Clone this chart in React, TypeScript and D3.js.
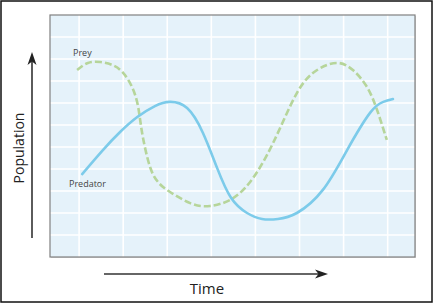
import React from "react";
import * as d3 from "d3";

// Time units: gridlines at integers 1..8; population units: gridlines at 1..10
const timeDomain: [number, number] = [0.34, 8.62];
const popDomain: [number, number] = [0, 11];
const timeGrid = [1, 2, 3, 4, 5, 6, 7, 8];
const popGrid = [1, 2, 3, 4, 5, 6, 7, 8, 9, 10];

const preyTime = [0.955, 1.2, 1.48, 1.75, 1.98, 2.2, 2.34, 2.43, 2.61, 2.79, 2.995, 3.52, 3.97, 4.42, 4.88, 5.4, 5.94, 6.4, 6.85, 7.21, 7.53, 7.76, 7.98];
const preyPop = [8.5, 8.82, 8.86, 8.73, 8.41, 7.73, 6.82, 5.64, 4.09, 3.41, 3.05, 2.45, 2.32, 2.59, 3.41, 5.18, 7.45, 8.5, 8.82, 8.5, 7.73, 6.68, 5.32];

const predTime = [1.07, 1.54, 1.93, 2.32, 2.72, 3.06, 3.45, 3.81, 4.13, 4.45, 4.81, 5.15, 5.51, 5.94, 6.53, 7.08, 7.6, 7.9, 8.12];
const predPop = [3.77, 4.86, 5.68, 6.36, 6.86, 7.05, 6.77, 5.64, 4.05, 2.68, 2.0, 1.73, 1.73, 2.0, 3.05, 4.86, 6.55, 7.05, 7.18];

const seriesLabels = ["Prey", "Predator"];
const axisLabels = { x: "Time", y: "Population" };

export default function App() {
  const W = 434, H = 304;
  const left = 50, right = 415, top = 15, bottom = 257;
  const x = d3.scaleLinear().domain(timeDomain).range([left, right]);
  const y = d3.scaleLinear().domain(popDomain).range([bottom, top]);
  const line = d3
    .line<[number, number]>()
    .x((d) => x(d[0]))
    .y((d) => y(d[1]))
    .curve(d3.curveNatural);
  const prey = preyTime.map((t, i) => [t, preyPop[i]] as [number, number]);
  const pred = predTime.map((t, i) => [t, predPop[i]] as [number, number]);
  const font = "'Open Sans', 'DejaVu Sans', sans-serif";
  return (
    <svg
      width={W}
      height={H}
      style={{ position: "absolute", left: 0, top: 0, background: "#fff" }}
    >
      <rect x={1} y={1} width={W - 3} height={H - 3} fill="#fff" stroke="#111" strokeWidth={1.5} />
      <rect x={left + 1} y={top + 1} width={right - left} height={bottom - top} fill="#d8d8d8" />
      <rect x={left} y={top} width={right - left} height={bottom - top} fill="#e5f2fa" />
      {timeGrid.map((t) => (
        <line key={"gx" + t} x1={x(t)} x2={x(t)} y1={top} y2={bottom} stroke="#fff" strokeWidth={1.6} />
      ))}
      {popGrid.map((p) => (
        <line key={"gy" + p} x1={left} x2={right} y1={y(p)} y2={y(p)} stroke="#fff" strokeWidth={1.6} />
      ))}
      <rect x={left} y={top} width={right - left} height={bottom - top} fill="none" stroke="#808080" strokeWidth={1.2} />
      <path d={line(prey) || ""} fill="none" stroke="#b6d59a" strokeWidth={2.6} strokeDasharray="7 3" strokeLinecap="butt" />
      <path d={line(pred) || ""} fill="none" stroke="#7ccbea" strokeWidth={2.6} strokeLinecap="round" />
      <text x={73} y={56} fontFamily={font} fontSize={9} fill="#444">{seriesLabels[0]}</text>
      <text x={69} y={187} fontFamily={font} fontSize={9} fill="#444">{seriesLabels[1]}</text>
      {/* y arrow */}
      <line x1={32} x2={32} y1={238} y2={60} stroke="#333" strokeWidth={1.6} />
      <path d="M32,52 L36.5,65 L32,61.5 L27.5,65 Z" fill="#222" />
      {/* x arrow */}
      <line x1={104} x2={320} y1={274} y2={274} stroke="#333" strokeWidth={1.6} />
      <path d="M328,274 L315,269.5 L318.5,274 L315,278.5 Z" fill="#222" />
      <text x={207} y={294} textAnchor="middle" fontFamily={font} fontSize={15} fill="#222">{axisLabels.x}</text>
      <text
        transform="translate(24,148) rotate(-90)"
        textAnchor="middle"
        fontFamily={font}
        fontSize={14}
        fill="#222"
      >
        {axisLabels.y}
      </text>
    </svg>
  );
}
